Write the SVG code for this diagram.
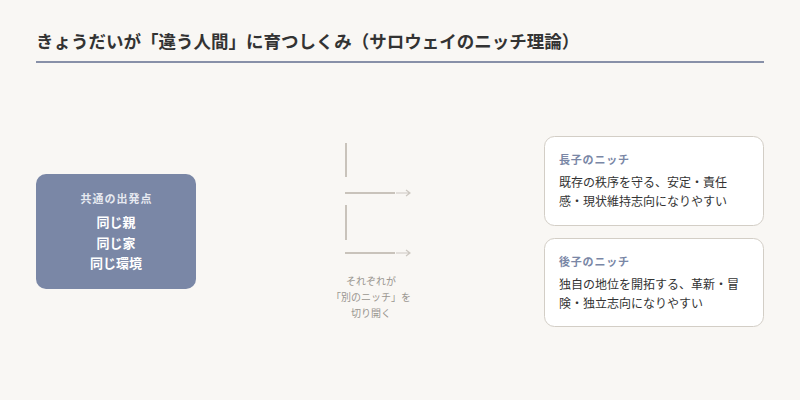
<svg xmlns="http://www.w3.org/2000/svg" width="800" height="400" viewBox="0 0 800 400">
<style>
.t{font-family:"Liberation Serif","Noto Sans CJK JP",serif;font-weight:bold;font-size:17.5px;fill:#333}
.s{font-family:"Noto Sans CJK JP",sans-serif}
.lbl{font-size:11px;font-weight:bold;fill:#e6e9f0;letter-spacing:1px}
.big{font-size:13px;font-weight:bold;fill:#fff}
.nt{font-size:11px;font-weight:bold;fill:#7a87a6;letter-spacing:0.8px}
.body{font-size:12px;fill:#333}
.cap{font-size:10px;fill:#9a9690}
.card{fill:#fff;stroke:#d3cec6;stroke-width:1}
.ln{stroke:#c9c3bb;stroke-width:2;fill:none}
.ar{stroke:#cdc8c1;stroke-width:1.2;fill:none}
</style>
<rect width="800" height="400" fill="#f9f7f4"/>
<text class="t" x="36" y="48">きょうだいが「違う人間」に育つしくみ（サロウェイのニッチ理論）</text>
<line x1="36" y1="62" x2="764" y2="62" stroke="#8890a8" stroke-width="2"/>
<g id="common">
<rect x="36" y="174" width="160" height="115" rx="10" fill="#7a87a6"/>
<text class="s lbl" x="116.5" y="203" text-anchor="middle">共通の出発点</text>
<text class="s big" x="116" y="227" text-anchor="middle">同じ親</text>
<text class="s big" x="116" y="248" text-anchor="middle">同じ家</text>
<text class="s big" x="116" y="268" text-anchor="middle">同じ環境</text>
</g>
<g id="connectors">
<line class="ln" x1="346" y1="143" x2="346" y2="177"/>
<line class="ln" x1="345" y1="193" x2="395" y2="193"/>
<path class="ar" d="M396 193H410M406 190L410 193L406 196"/>
<line class="ln" x1="346" y1="205" x2="346" y2="240"/>
<line class="ln" x1="345" y1="253" x2="395" y2="253"/>
<path class="ar" d="M396 253H410M406 250L410 253L406 256"/>
<text class="s cap" x="371" y="285" text-anchor="middle">それぞれが</text>
<text class="s cap" x="371" y="301" text-anchor="middle">「別のニッチ」を</text>
<text class="s cap" x="371" y="317" text-anchor="middle">切り開く</text>
</g>
<g id="elder">
<rect class="card" x="544.5" y="136.5" width="219" height="89" rx="10"/>
<text class="s nt" x="559" y="164">長子のニッチ</text>
<text class="s body" x="559" y="187">既存の秩序を守る、安定・責任</text>
<text class="s body" x="559" y="206">感・現状維持志向になりやすい</text>
</g>
<g id="younger">
<rect class="card" x="544.5" y="238.5" width="219" height="88" rx="10"/>
<text class="s nt" x="559" y="266">後子のニッチ</text>
<text class="s body" x="559" y="289">独自の地位を開拓する、革新・冒</text>
<text class="s body" x="559" y="308">険・独立志向になりやすい</text>
</g>
</svg>
